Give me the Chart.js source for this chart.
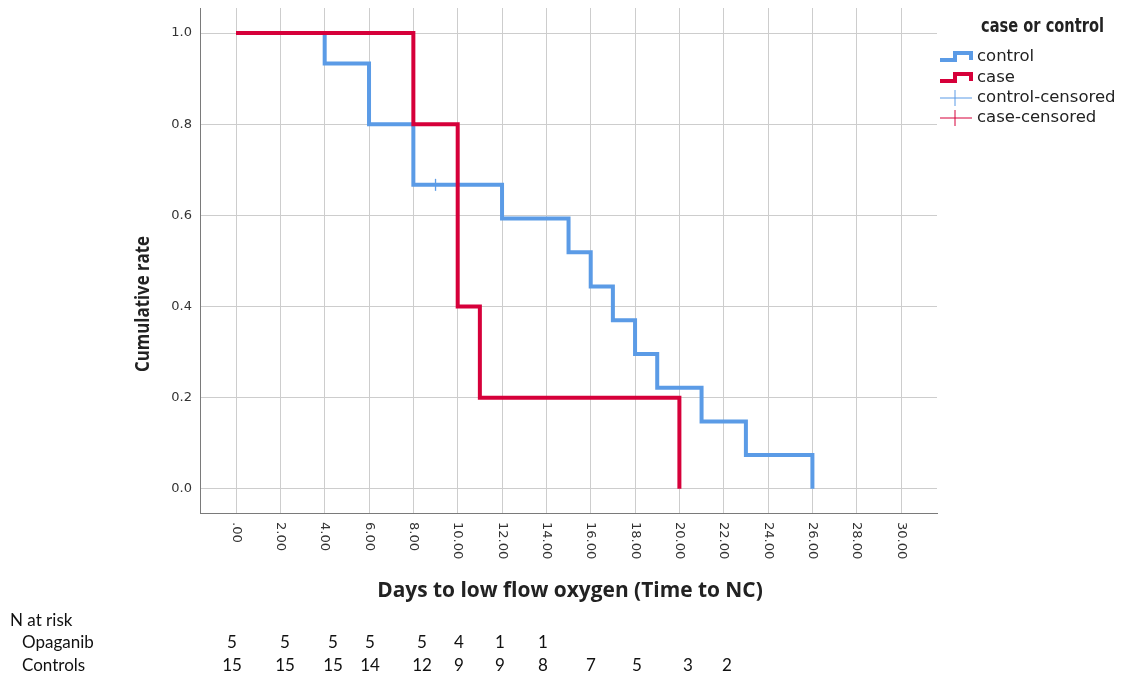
<!DOCTYPE html>
<html>
<head>
<meta charset="utf-8">
<script src="https://cdn.jsdelivr.net/npm/chart.js@4/dist/chart.umd.min.js"></script>
<style>
  html, body { margin: 0; padding: 0; background: #fff; }
  #wrap { width: 1132px; height: 681px; position: relative; }
</style>
</head>
<body>
<div id="wrap"><canvas id="grafico" width="1132" height="681"></canvas></div>
<script>
// Kaplan-Meier steps (days, cumulative rate)
const controlDays = [0, 4, 6, 8, 12, 15, 16, 17, 18, 19, 21, 23, 26];
const controlRate = [1.0, 0.933, 0.8, 0.667, 0.593, 0.519, 0.444, 0.370, 0.296, 0.222, 0.148, 0.074, 0.0];
const caseDays = [0, 8, 10, 11, 20];
const caseRate = [1.0, 0.8, 0.4, 0.2, 0.0];
const controlCensorDays = [9];
const controlCensorRate = [0.667];

const xTickLabels = ['.00', '2.00', '4.00', '6.00', '8.00', '10.00', '12.00', '14.00', '16.00',
                     '18.00', '20.00', '22.00', '24.00', '26.00', '28.00', '30.00'];
const xTickValues = [0, 2, 4, 6, 8, 10, 12, 14, 16, 18, 20, 22, 24, 26, 28, 30];

const legendLabels = ['control', 'case', 'control-censored', 'case-censored'];

// N at risk table
const riskGroups = ['Opaganib', 'Controls'];
const riskOpaganib = [5, 5, 5, 5, 5, 4, 1, 1];
const riskControls = [15, 15, 15, 14, 12, 9, 9, 8, 7, 5, 3, 2];
const riskColX = [232, 285, 333, 370, 422, 459, 500, 543, 591, 637, 688, 727];

const BLUE = '#5b9be6';
const RED = '#d6003a';

function pts(xs, ys) {
  return xs.map(function (x, i) { return { x: x, y: ys[i] }; });
}

const extras = {
  id: 'extras',
  afterDraw: function (chart) {
    const c = chart.ctx;
    const xs = chart.scales.x;
    c.save();

    // x tick labels, rotated clockwise
    c.fillStyle = '#333';
    c.font = '13px "DejaVu Sans"';
    c.textAlign = 'left';
    c.textBaseline = 'middle';
    xTickValues.forEach(function (v, i) {
      const px = xs.getPixelForValue(v);
      c.save();
      c.translate(px, 522);
      c.rotate(Math.PI / 2);
      c.fillText(xTickLabels[i], 0, 0);
      c.restore();
    });

    // axis titles
    c.fillStyle = '#222';
    c.textAlign = 'center';
    c.textBaseline = 'middle';
    c.font = 'bold 22px "Open Sans"';
    c.save();
    c.translate(570, 591);
    c.scale(0.95, 1);
    c.fillText('Days to low flow oxygen (Time to NC)', 0, 0);
    c.restore();
    c.font = 'bold 20px "Open Sans"';
    c.save();
    c.translate(143, 304);
    c.rotate(-Math.PI / 2);
    c.scale(0.84, 1);
    c.fillText('Cumulative rate', 0, 0);
    c.restore();

    // legend
    c.textAlign = 'left';
    c.fillStyle = '#222';
    c.font = 'bold 19px "DejaVu Sans"';
    c.save();
    c.translate(981, 27);
    c.scale(0.77, 1);
    c.fillText('case or control', 0, 0);
    c.restore();
    const ly = [57, 78, 98, 118];
    const lc = [BLUE, RED, BLUE, RED];
    c.font = '16.5px "DejaVu Sans"';
    legendLabels.forEach(function (lab, i) {
      const y = ly[i];
      c.strokeStyle = lc[i];
      if (i < 2) {
        c.lineWidth = 4;
        c.beginPath();
        c.moveTo(940, y + 3);
        c.lineTo(955, y + 3);
        c.lineTo(955, y - 4);
        c.lineTo(971, y - 4);
        c.lineTo(971, y + 3);
        c.stroke();
      } else {
        c.lineWidth = 1;
        c.beginPath();
        c.moveTo(940, y);
        c.lineTo(972, y);
        c.moveTo(955, y - 8);
        c.lineTo(955, y + 8);
        c.stroke();
      }
      c.fillStyle = '#222';
      c.fillText(lab, 977, y);
    });

    // N at risk
    c.fillStyle = '#111';
    c.font = '17px Lato';
    c.textAlign = 'left';
    c.fillText('N at risk', 10, 621);
    c.fillText(riskGroups[0], 22, 643);
    c.fillText(riskGroups[1], 22, 666);
    c.textAlign = 'center';
    riskOpaganib.forEach(function (n, i) { c.fillText(String(n), riskColX[i], 643); });
    riskControls.forEach(function (n, i) { c.fillText(String(n), riskColX[i], 666); });

    c.restore();
  }
};

new Chart(document.getElementById('grafico'), {
  type: 'line',
  data: {
    datasets: [
      {
        label: 'case',
        data: pts(caseDays, caseRate),
        borderColor: RED,
        borderWidth: 4,
        stepped: 'before',
        pointRadius: 0,
        fill: false,
        order: 0
      },
      {
        label: 'control-censored',
        type: 'scatter',
        data: pts(controlCensorDays, controlCensorRate),
        borderColor: BLUE,
        backgroundColor: BLUE,
        pointStyle: 'line',
        rotation: 90,
        pointRadius: 6,
        borderWidth: 1.3,
        order: 1
      },
      {
        label: 'control',
        data: pts(controlDays, controlRate),
        borderColor: BLUE,
        borderWidth: 4,
        stepped: 'before',
        pointRadius: 0,
        fill: false,
        order: 2
      }
    ]
  },
  options: {
    responsive: false,
    animation: false,
    devicePixelRatio: 1,
    layout: { padding: { left: 0, top: 8, right: 195, bottom: 168 } },
    plugins: { legend: { display: false }, tooltip: { enabled: false } },
    scales: {
      x: {
        type: 'linear',
        min: -1.624,
        max: 31.62,
        ticks: { display: false, stepSize: 2, includeBounds: false },
        grid: { color: '#cdcdcd', lineWidth: 1, drawTicks: false },
        border: { color: '#7a7a7a', width: 1 },
        afterFit: function (s) { s.height = 0; s.paddingLeft = 0; s.paddingRight = 0; }
      },
      y: {
        min: -0.053,
        max: 1.055,
        ticks: {
          stepSize: 0.2,
          includeBounds: false,
          padding: 8,
          color: '#333',
          font: { family: 'DejaVu Sans', size: 13 },
          callback: function (v) { return Number(v).toFixed(1); }
        },
        grid: { color: '#cdcdcd', lineWidth: 1, drawTicks: false },
        border: { color: '#7a7a7a', width: 1 },
        afterFit: function (s) { s.width = 200; s.paddingTop = 0; s.paddingBottom = 0; }
      }
    }
  },
  plugins: [extras]
});
</script>
</body>
</html>
